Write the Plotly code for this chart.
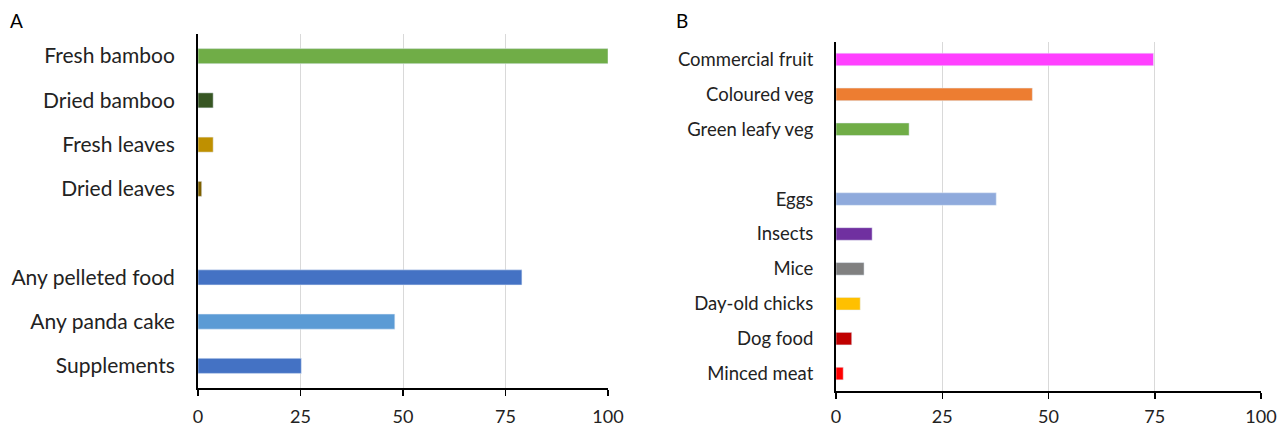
import plotly.graph_objects as go

# Panel A
cats_a = ["Fresh bamboo", "Dried bamboo", "Fresh leaves", "Dried leaves", " ",
          "Any pelleted food", "Any panda cake", "Supplements"]
vals_a = [100, 3.7, 3.7, 0.9, None, 79, 48, 25.2]
cols_a = ["#70ad47", "#375623", "#bf9000", "#7f6000", "#ffffff",
          "#4472c4", "#5b9bd5", "#4472c4"]

# Panel B
cats_b = ["Commercial fruit", "Coloured veg", "Green leafy veg", " ",
          "Eggs", "Insects", "Mice", "Day-old chicks", "Dog food", "Minced meat"]
vals_b = [74.7, 46.2, 17.2, None, 37.7, 8.5, 6.6, 5.7, 3.7, 1.7]
cols_b = ["#ff40ff", "#ed7d31", "#70ad47", "#ffffff",
          "#8faadc", "#7030a0", "#808080", "#ffc000", "#c00000", "#ff0000"]

ticks = [0, 25, 50, 75, 100]

FONT = "Lato"
W, H = 1279, 427


def px(x):
    return x / W


def py(y):
    return 1 - y / H


fig = go.Figure()
fig.add_trace(go.Bar(x=vals_a, y=cats_a, orientation="h", marker_color=cols_a,
                     width=0.34, xaxis="x", yaxis="y", showlegend=False))
fig.add_trace(go.Bar(x=vals_b, y=cats_b, orientation="h", marker_color=cols_b,
                     width=0.36, xaxis="x2", yaxis="y2", showlegend=False))

xcommon = dict(range=[0, 100], tickvals=ticks, showgrid=True, gridcolor="#d9d9d9",
               gridwidth=1, showline=True, linecolor="black", linewidth=1.5,
               ticks="outside", ticklen=6, tickcolor="black", tickwidth=1.5,
               zeroline=False, fixedrange=True, automargin=False,
               tickfont=dict(family=FONT, size=18, color="#222"))
ycommon = dict(autorange="reversed", type="category", showline=True,
               linecolor="black", linewidth=2, ticks="", showgrid=False,
               zeroline=False, ticklabelstandoff=17, automargin=False)

fig.update_layout(
    width=W, height=H,
    margin=dict(l=0, r=0, t=0, b=0, autoexpand=False),
    paper_bgcolor="white", plot_bgcolor="white",
    bargap=0,
    xaxis=dict(domain=[px(198), px(608)], anchor="y", ticklabelstandoff=6,
               **xcommon),
    yaxis=dict(domain=[py(388), py(34)], anchor="x",
               tickfont=dict(family=FONT, size=21, color="#222"), **ycommon),
    xaxis2=dict(domain=[px(836), px(1261)], anchor="y2", ticklabelstandoff=3,
                **xcommon),
    yaxis2=dict(domain=[py(391), py(42)], anchor="x2",
                tickfont=dict(family=FONT, size=18.5, color="#222"), **ycommon),
    annotations=[
        dict(text="A", x=px(8), y=py(20), xref="paper", yref="paper",
             xanchor="left", yanchor="middle", showarrow=False,
             font=dict(family=FONT, size=19, color="black")),
        dict(text="B", x=px(674), y=py(20), xref="paper", yref="paper",
             xanchor="left", yanchor="middle", showarrow=False,
             font=dict(family=FONT, size=19, color="black")),
    ],
)

# remove the default page margin so the figure fills the 1279x427 window
fig.write_html(
    "out.html",
    config={"displayModeBar": False, "staticPlot": True},
    post_script="document.body.style.margin='0px';"
                "document.body.style.overflow='hidden';",
)
